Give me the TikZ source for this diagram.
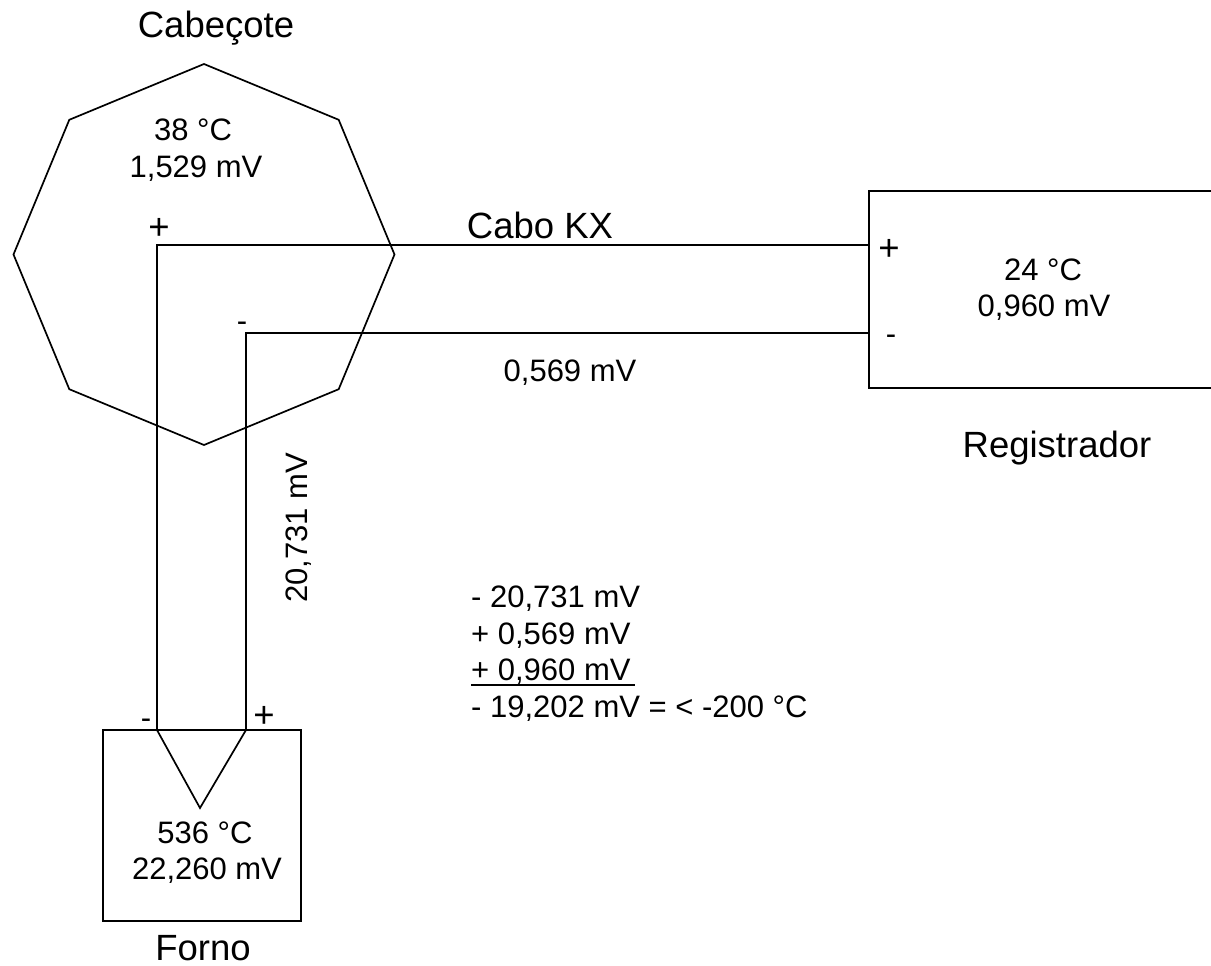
\documentclass[tikz,border=0pt]{standalone}
\usepackage{fontspec}
\setmainfont{Liberation Sans}
\usetikzlibrary{shapes}

\tikzset{
  small/.style={inner sep=0pt,font=\fontsize{31}{36}\selectfont},
  large/.style={inner sep=0pt,font=\fontsize{36.5}{42}\selectfont},
  wire/.style={line width=2.6pt},
  fine/.style={line width=1.7pt}
}

\begin{document}
\begin{tikzpicture}[x=1pt,y=-1pt]
\useasboundingbox (0,0) rectangle (1211,966);
\node (TITLE) [large] at (216,28) {Cabeçote};
\node (HEAD) [regular polygon,regular polygon sides=8,regular polygon rotate=22.5,draw,fine,minimum size=381pt,inner sep=0pt,outer sep=0pt] at (204,254.5) {};
\node (HEADT) [small] at (193,130) {38 °C};
\node (HEADV) [small] at (196,169) {1,529 mV};
\node (HEADP) [large] at (159,229) {+};
\node (HEADM) [small] at (242,327) {-};
\node (CABLE) [large] at (540,225) {Cabo KX};
\node (DROP) [small] at (570,373) {0,569 mV};
\node (LEG) [small,rotate=90] at (299,528) {20,731 mV};
\node (REGT) [small] at (1043,270) {24 °C};
\node (REGV) [small] at (1044,308) {0,960 mV};
\node (REGP) [large] at (889,250) {+};
\node (REGM) [small] at (891,340) {-};
\node (REG) [large] at (1057,448) {Registrador};
\node (FURN) [draw,wire,minimum width=198pt,minimum height=191pt,inner sep=0pt,outer sep=0pt] at (202,825.5) {};
\node (FURNT) [small] at (205,833) {536 °C};
\node (FURNV) [small] at (207,871) {22,260 mV};
\node (FURNM) [small] at (146,724) {-};
\node (FURNP) [large] at (264,717) {+};
\node (FORNO) [large] at (203,948) {Forno};
\node (SUMA) [small,anchor=west] at (471,599) {- 20,731 mV};
\node (SUMB) [small,anchor=west] at (471,636) {+ 0,569 mV};
\node (SUMC) [small,anchor=west] at (471,672) {+ 0,960 mV};
\node (SUMD) [small,anchor=west] at (471,709) {- 19,202 mV = < -200 °C};
\coordinate (INA) at (869,245);
\coordinate (INB) at (869,333);
\coordinate (OUTA) at (157,730);
\coordinate (OUTB) at (246,730);
\coordinate (TIP) at (200,808);
\coordinate (RULEA) at (471,685);
\coordinate (RULEB) at (635,685);
\draw [wire] (1211,191) -- (869,191) -- (869,388) -- (1211,388);
\draw [wire] (INA) -| (OUTA);
\draw [wire] (INB) -| (OUTB);
\draw [fine] (OUTA) -- (TIP) -- (OUTB);
\draw [wire] (RULEA) -- (RULEB);
\end{tikzpicture}
\end{document}
